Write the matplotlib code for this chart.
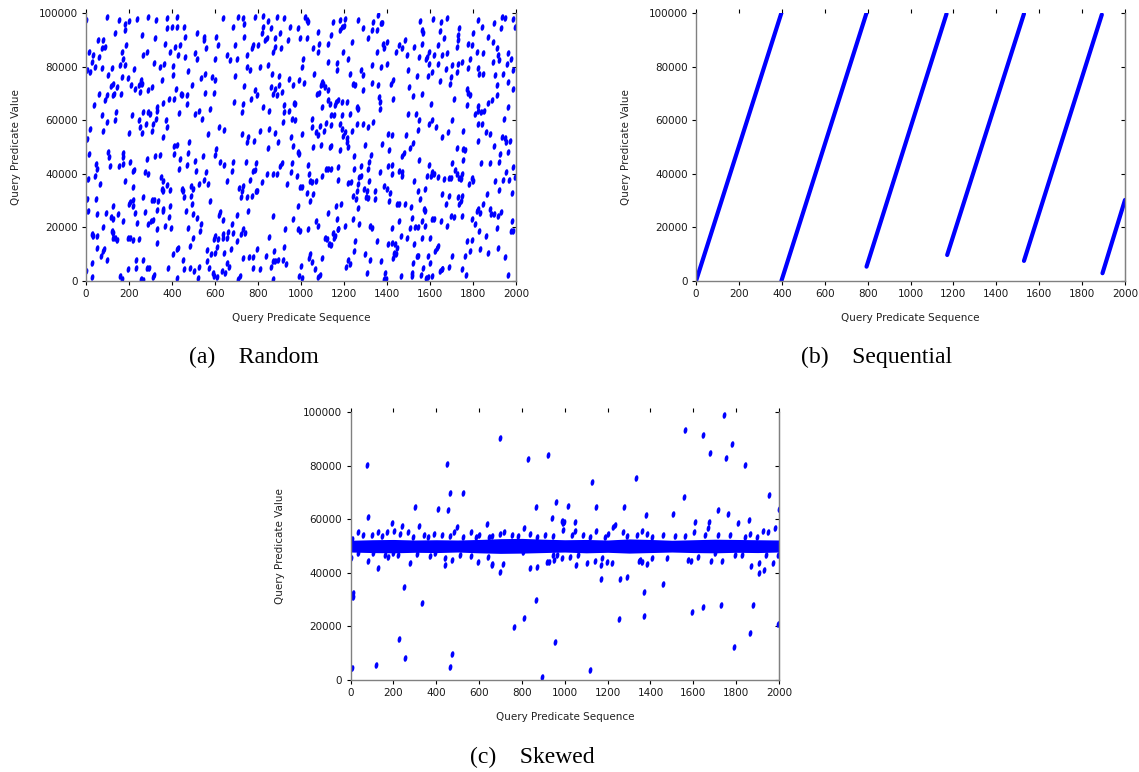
#query predicate workloads - random / sequential / skewed
import numpy as np
import matplotlib
matplotlib.use("Agg")
import matplotlib.pyplot as plt
from matplotlib.markers import MarkerStyle
from matplotlib.transforms import Affine2D

# ---- (a) random : x = query number, y in thousands ----
rand_x = [
    99,153,181,201,236,290,325,378,398,425,456,638,708,728,786,821,848,890,921,949,0,
    135,181,262,375,422,515,549,604,685,735,825,859,817,840,879,902,941,736,
    57,81,73,88,186,321,367,414,437,460,549,558,615,694,778,801,832,879,905,
    15,34,62,166,174,267,282,391,429,460,507,515,600,654,701,747,770,871,
    26,42,6,19,73,104,122,158,181,223,316,344,363,403,406,476,533,553,584,670,693,747,763,809,848,863,899,
    116,127,146,166,197,209,228,248,259,254,305,352,418,440,491,600,735,786,794,859,879,896,911,945,964,
    62,37,96,88,124,130,161,251,290,329,356,387,409,445,471,468,527,553,577,597,688,728,766,821,849,868,887,922,969,
    73,96,138,135,212,248,263,290,298,329,325,372,434,507,538,724,922,945,956,918,
    19,77,201,251,262,279,305,313,378,360,569,620,642,724,755,809,852,877,952,6,
    1019,1026,1031,1150,1181,1205,1267,1336,1356,1375,1553,1615,1651,1677,1821,1899,1933,1949,1987,984,
    1081,1139,1181,1189,1201,1290,1310,1329,1352,1372,1561,1569,1646,1663,1735,1732,1801,1843,1871,1930,1995,995,1026,
    1057,1084,1077,1127,1236,1197,1383,1398,1387,1440,1456,1471,1484,1525,1561,1595,1635,1654,1677,1728,1724,1775,1794,1817,1894,1910,1964,
    1011,1006,1127,1166,1166,1220,1352,1332,1372,1398,1491,1496,1549,1584,1595,1580,1620,1635,1673,1701,1728,1747,1775,1786,1848,1918,1894,1921,1956,1976,1821,1987,
    991,1015,1062,1096,1104,1112,1093,1124,1228,1243,1251,1279,1290,1332,1360,1418,1429,1502,1538,1592,1611,1646,1693,1697,1724,1770,1828,1848,1902,1910,1941,1964,1987,
    972,1073,1084,1124,1135,1161,1170,1189,1212,1263,1290,1363,1367,1429,1522,1564,1604,1713,1770,1778,1786,1821,1868,1887,1910,1964,
    1096,1139,1155,1158,1228,1259,1189,1053,1367,1499,1533,1549,1608,1701,1821,1809,1837,1852,1945,972,
    1003,1053,1077,1068,1088,1108,1115,1139,1181,1189,1205,1197,1212,1239,1259,1290,1313,1336,1406,1425,1487,1542,1595,1626,1685,1657,1755,1821,1840,1859,1879,1933,1949,1972,
    15,104,108,170,174,205,282,321,344,409,425,409,437,480,476,507,542,604,600,747,781,848,894,961,
    46,50,42,112,155,170,217,223,274,290,434,468,511,558,623,642,677,682,744,775,786,790,840,890,902,910,952,956,
    11,65,181,220,347,356,378,360,352,391,445,487,499,527,549,569,654,713,728,763,790,817,871,933,
    6,46,127,205,201,217,220,267,305,316,336,356,391,456,449,487,491,577,719,724,747,770,794,
    11,53,93,115,127,150,170,228,236,274,301,290,310,332,360,387,465,499,518,620,623,639,679,701,755,868,964,
    26,34,50,77,119,127,135,124,197,205,220,248,332,367,394,476,530,533,499,600,595,615,635,639,657,662,682,701,732,719,739,925,852,
    53,84,77,68,96,146,263,329,403,422,429,484,561,580,600,608,642,673,732,759,778,794,837,874,871,894,921,918,
    0,26,26,158,166,197,232,232,254,263,282,294,310,316,383,425,449,456,484,502,527,522,564,573,592,595,608,631,646,654,666,708,716,775,809,859,868,879,930,
    984,991,1057,1093,1135,1139,1181,1212,1217,1248,1298,1325,1378,1409,1471,1480,1507,1522,1549,1724,1755,1763,1821,1899,1925,1952,1961,
    1034,1037,1115,1127,1139,1174,1248,1279,1279,1310,1316,1367,1403,1425,1456,1471,1468,1595,1584,1608,1620,1635,1704,1724,1716,1744,1755,1837,1879,1921,1987,1952,
    980,995,1006,1042,1050,1068,1099,1174,1217,1232,1270,1267,1259,1294,1305,1316,1344,1387,1398,1414,1422,1524,1542,1577,1604,1666,1688,1697,1735,1747,1781,1794,1801,1902,1921,1941,1967,1980,1995,
    1026,1042,1057,984,1161,1186,1243,1254,1263,1301,1313,1344,1409,1445,1456,1484,1511,1553,1573,1577,1657,1688,1673,1728,1747,1735,1744,1817,1825,1848,1863,1879,1899,1930,1832,
    1068,1077,1124,1166,1170,1205,1243,1270,1321,1329,1422,1456,1507,1515,1530,1542,1561,1577,1608,1620,1651,1677,1697,1713,1747,1794,1809,1828,1883,1918,1980,1987,
    984,995,1031,1112,1119,1130,1150,1155,1158,1174,1251,1352,1403,1425,1437,1445,1465,1491,1527,1561,1600,1631,1639,1770,1797,1859,1910,1976,
    1042,1037,1053,1099,1139,1220,1208,1228,1248,1298,1321,1372,1434,1429,1440,1522,1538,1546,1569,1589,1600,1623,1654,1701,1763,1786,1832,1871,1914,1949,
    1000,991,1003,1065,1088,1081,1305,1390,1387,1394,1465,1515,1518,1558,1580,1589,1608,1646,1657,1688,1747,1766,1964,
]
rand_y = [
    98.6,97.4,95.8,97.0,97.8,98.6,97.4,98.0,94.9,98.4,94.9,98.0,98.6,98.3,98.6,98.9,97.0,98.4,98.0,94.9,97.4,
    92.4,93.6,91.8,94.3,94.9,92.4,91.1,91.1,94.9,95.8,94.9,94.3,92.4,90.5,90.5,92.4,89.9,91.1,
    89.9,89.9,86.8,87.4,88.0,90.5,88.6,87.4,88.0,91.1,89.9,86.8,88.0,88.0,88.0,88.0,89.9,87.4,86.8,
    85.5,84.3,83.6,85.5,83.0,84.3,85.5,85.5,84.5,83.6,84.9,83.0,83.0,84.3,83.0,84.3,86.8,85.5,
    81.8,79.9,78.6,78.0,79.3,76.8,79.3,80.5,80.5,79.0,81.5,79.9,80.8,80.3,76.8,78.3,75.8,77.4,76.1,82.4,76.5,79.9,78.6,79.9,80.5,77.4,76.5,
    72.6,73.6,72.4,76.1,75.8,73.0,71.8,73.0,73.6,74.9,72.4,74.9,71.5,69.9,73.0,74.9,72.8,71.1,69.3,72.4,71.8,73.0,70.5,75.3,73.0,
    69.9,65.5,69.3,67.4,69.3,69.9,69.9,70.5,71.1,64.9,66.5,68.0,68.0,69.3,69.3,66.1,63.6,70.3,64.3,70.3,66.8,66.1,68.0,64.9,63.3,69.9,69.3,65.5,66.5,
    61.8,59.3,63.0,59.9,61.8,59.9,63.0,63.0,62.4,63.6,60.5,59.9,62.8,62.4,60.5,63.0,63.0,63.6,60.5,59.3,
    56.8,56.1,55.3,57.4,55.3,58.6,56.1,58.6,57.4,53.6,54.9,57.4,56.5,54.9,53.6,56.1,56.8,55.3,53.6,53.0,
    98.6,97.4,96.5,96.8,97.4,97.8,97.4,96.8,99.3,96.1,97.0,97.8,96.8,98.3,97.4,96.1,98.6,98.0,97.8,94.5,
    93.0,91.8,93.6,94.9,95.3,94.5,90.5,93.6,93.6,96.1,93.6,92.4,93.3,90.5,94.5,91.8,92.4,94.9,91.1,94.5,94.9,90.5,90.5,
    86.8,88.3,85.5,88.6,89.3,85.5,88.3,89.3,86.8,85.5,88.0,87.0,89.9,87.4,88.3,85.5,88.0,84.3,84.9,89.9,87.4,88.3,88.0,85.5,89.3,86.8,84.9,
    83.0,79.9,81.8,81.5,78.6,83.0,85.5,80.5,79.9,81.1,84.3,78.6,83.6,83.6,81.1,83.0,84.3,81.1,79.0,80.5,81.1,81.8,79.3,83.0,84.9,84.3,81.8,82.4,80.8,83.0,79.3,78.6,
    74.9,74.0,77.4,74.3,73.6,72.4,73.0,71.1,77.4,73.6,73.0,78.6,76.8,74.0,73.0,73.6,74.9,72.4,76.5,76.5,78.0,74.5,73.6,76.1,78.0,71.8,77.4,77.4,76.8,73.0,77.4,74.3,71.8,
    66.1,69.9,70.3,67.4,66.1,66.8,67.4,66.8,66.8,64.3,71.1,68.6,66.8,68.0,69.0,69.9,66.1,68.0,65.5,70.3,69.5,65.3,66.5,67.4,69.3,64.9,
    64.9,61.8,61.8,65.5,62.4,64.9,61.8,60.5,64.0,62.4,62.4,59.9,59.9,59.9,63.3,62.4,63.0,63.6,60.5,59.9,
    54.9,57.4,54.3,55.5,58.0,56.1,59.0,58.3,58.6,56.8,55.5,54.0,53.3,56.1,58.6,58.6,57.4,59.3,54.9,54.3,54.3,56.5,58.6,57.4,55.5,53.6,56.1,58.6,58.6,55.5,54.9,53.6,53.3,52.4,
    47.4,48.0,46.4,47.7,46.2,44.3,45.5,46.8,47.2,50.5,50.9,47.4,45.5,51.8,47.7,44.9,46.8,49.3,47.2,51.8,52.4,49.6,51.8,50.5,
    43.7,41.8,39.3,43.0,43.0,43.7,41.2,41.4,40.5,39.9,41.8,43.4,40.9,40.5,44.3,43.4,40.9,44.3,44.3,40.9,41.4,43.9,39.9,39.9,43.0,43.9,40.5,43.9,
    38.0,36.2,37.2,34.9,38.9,37.4,35.9,33.7,34.3,33.9,34.3,35.5,34.3,36.2,37.7,36.2,37.2,34.7,35.5,37.7,33.7,36.8,39.9,36.2,
    30.5,30.5,28.0,29.3,28.7,28.0,30.2,31.2,30.2,30.2,29.9,26.8,28.0,31.2,33.7,31.8,28.7,29.7,31.2,33.7,31.4,31.8,33.7,
    26.2,24.9,25.5,23.9,23.0,24.9,22.4,25.5,21.8,25.9,22.4,21.4,22.7,26.4,26.2,23.9,26.2,24.9,23.4,24.7,25.9,22.7,21.2,24.7,26.2,24.3,23.0,
    17.4,16.8,16.8,20.2,18.7,18.0,16.2,15.9,16.2,15.9,15.2,15.5,19.3,20.5,19.9,19.9,18.7,21.2,16.2,16.8,15.5,15.5,16.2,17.7,16.2,18.4,18.0,14.9,19.3,17.4,18.0,19.3,16.4,
    12.4,11.8,11.2,9.3,8.0,15.2,8.0,14.3,10.2,11.8,12.2,13.0,11.4,10.2,10.5,12.6,10.5,11.8,8.7,8.9,8.9,11.8,9.3,11.2,7.6,8.0,12.6,8.0,
    3.7,6.8,1.4,1.8,0.9,4.3,4.9,8.0,0.9,0.2,4.7,4.9,1.4,2.4,4.9,1.2,8.0,4.3,4.9,3.9,5.2,1.2,7.4,4.9,3.0,1.8,1.4,3.9,3.0,6.8,5.2,0.9,1.8,4.7,4.3,5.2,0.9,7.6,6.4,
    48.0,47.4,49.9,50.9,49.9,50.5,48.7,51.8,49.9,46.8,50.9,47.2,51.2,48.7,46.8,47.7,49.7,51.4,45.2,49.7,49.3,48.7,52.4,50.2,47.4,51.8,48.0,
    43.4,39.9,41.8,41.8,41.8,42.4,41.8,43.0,39.3,41.8,44.3,40.5,43.0,43.4,41.2,40.5,39.3,43.4,39.3,40.5,39.9,38.7,43.9,39.9,41.4,38.0,45.2,43.9,43.9,44.3,42.4,40.5,
    39.3,34.9,34.9,37.4,36.8,37.4,39.3,37.7,36.4,36.8,38.9,36.2,33.7,34.3,33.7,37.4,33.7,35.5,34.3,33.0,39.9,37.4,33.7,34.3,39.3,38.0,38.4,38.4,38.4,39.9,36.2,38.4,37.4,37.4,33.9,37.7,37.7,32.7,38.7,
    33.0,29.9,32.4,28.0,28.0,28.9,31.8,30.5,27.4,31.2,30.9,30.5,29.9,28.9,28.7,28.7,27.7,30.5,26.8,26.2,32.4,31.8,28.7,31.2,31.8,28.7,29.9,26.2,26.8,28.7,32.4,26.8,24.9,25.9,25.5,
    22.4,20.5,25.5,23.0,19.3,20.5,23.0,21.2,20.5,19.7,19.7,22.4,19.7,23.4,20.2,20.2,22.4,20.5,23.0,23.0,22.4,20.5,24.3,23.7,24.3,23.0,21.2,18.7,24.9,24.3,22.4,18.7,
    19.3,18.7,19.3,16.2,15.5,13.7,18.0,16.2,16.8,19.3,14.9,14.9,13.7,14.3,13.9,12.4,16.8,15.9,13.9,15.9,16.2,12.4,13.0,14.9,15.2,16.8,19.9,18.7,
    9.9,8.7,7.2,8.4,13.4,8.0,5.2,6.2,11.2,9.9,8.0,7.4,10.5,8.4,9.9,6.8,9.3,9.3,4.9,9.3,6.8,11.2,4.3,9.3,9.3,11.2,11.8,10.5,12.4,8.9,
    5.5,1.8,1.2,4.3,2.4,1.4,3.0,3.0,0.9,0.9,1.8,3.0,1.8,2.2,1.2,1.4,1.8,3.7,4.3,5.2,4.3,2.4,2.4,
]

# ---- (b) sequential : runs of increasing predicate values ----
seq_start_x = [0, 398, 795, 1171, 1529, 1895]
seq_start_y = [0, 0, 5350, 9700, 7500, 2900]
seq_end_x = [398, 795, 1168, 1529, 1892, 2000]
seq_end_y = [100000, 100000, 99700, 99700, 99400, 30250]

# ---- (c) skewed : dense band near 50000 (thousands) ----
band_x = [0,100,200,300,400,500,600,700,800,900,1000,1100,1200,1300,1400,1500,1600,1700,1800,1900,2000]
band_hi = [52.2,52.4,52.5,52.3,52.4,52.3,52.5,52.8,52.9,52.6,52.4,52.5,52.3,52.7,52.5,52.2,52.4,52.6,52.5,52.4,52.3]
band_lo = [47.8,47.6,47.5,47.7,47.6,47.8,47.5,47.3,47.4,47.6,47.8,47.5,47.7,47.4,47.6,47.8,47.6,47.5,47.7,47.6,47.8]

spike_x = [
    36,60,127,169,192,205,242,270,320,345,391,425,485,496,527,562,600,636,646,659,5,99,145,231,293,363,464,584,
    2,36,80,130,161,177,200,223,278,371,441,441,472,511,562,597,643,659,107,309,394,
    698,716,810,838,869,908,947,990,990,996,1032,1048,1048,1084,1118,1146,1188,1203,1224,1235,1273,1292,1336,752,783,985,
    659,698,710,803,838,869,916,928,947,950,962,1052,1063,1105,1141,1168,1172,1199,1219,1348,985,1024,
    1362,1382,1406,1460,1515,1605,1608,1655,1667,1673,1717,1771,1810,1841,1860,1865,1896,1927,1950,1981,1561,
    1351,1362,1382,1406,1476,1577,1589,1624,1683,1736,1795,1829,1869,1907,1907,1932,1938,1974,1994,1701,
]
spike_y = [
    55.4,54.1,55.4,55.4,58.7,55.7,57.5,55.4,57.5,54.1,54.7,54.1,55.4,57.2,53.5,55.4,54.1,58.2,53.3,53.7,52.5,54.1,53.7,54.5,53.5,53.3,53.7,53.3,
    45.4,47.3,44.5,41.7,46.7,46.0,47.3,46.7,43.8,46.3,45.4,42.9,44.8,46.7,46.3,44.2,46.0,42.9,47.3,47.0,47.3,
    54.7,55.4,56.6,54.7,53.5,54.1,53.7,56.0,58.5,59.1,54.1,55.7,59.1,54.1,53.5,55.7,53.3,54.5,57.0,57.9,55.4,53.7,54.1,54.1,53.7,59.5,
    43.5,40.4,43.5,47.9,41.7,42.3,44.2,44.2,46.7,44.8,46.7,42.9,46.7,43.8,44.5,42.9,45.4,44.2,43.8,44.5,45.4,46.0,
    55.7,54.7,53.5,54.1,53.7,55.4,59.1,54.1,56.6,59.1,54.1,54.1,58.5,53.5,59.7,54.7,53.3,55.7,55.4,56.6,53.7,
    44.8,44.2,43.5,45.4,45.4,44.8,44.5,46.0,44.5,44.5,46.7,46.7,42.5,39.8,43.8,41.1,46.7,43.8,46.7,47.3,
]

out_x = [9,10,14,75,82,118,227,249,253,300,336,409,451,456,464,464,476,526,700,762,
         809,829,866,868,892,923,939,954,959,1017,1120,1128,1146,1167,1254,1258,1276,1290,1332,1371,
         1369,1378,1459,1507,1561,1556,1592,1646,1646,1677,1728,1717,1745,1754,1761,1782,1789,1841,1863,1880,
         1954,1996,2000]
out_y = [4.4,31.0,32.5,80.3,61.0,5.6,15.2,34.9,8.1,64.5,28.6,63.7,80.7,63.5,70.0,5.0,9.7,70.0,90.3,19.9,
         23.0,82.4,64.5,29.9,1.0,84.0,60.4,14.3,66.6,65.0,3.7,74.1,64.5,37.6,22.7,37.9,64.5,38.3,75.3,33.0,
         23.9,61.6,35.9,62.0,93.4,68.5,25.5,91.5,27.4,84.9,28.0,63.5,99.0,82.8,62.0,88.1,12.4,80.3,17.4,28.0,
         69.1,20.9,63.7]

captions = ["(a)    Random", "(b)    Sequential", "(c)    Skewed"]

BLUE = "#0000ff"
GREY = "#808080"
dot = MarkerStyle("o", transform=Affine2D().scale(0.55, 1.0).rotate_deg(-10))


def style_axes(ax):
    ax.set_xlim(0, 2000)
    ax.set_ylim(0, 100000)
    ax.set_xticks(range(0, 2001, 200))
    ax.set_yticks(range(0, 100001, 20000))
    ax.spines["top"].set_visible(False)
    for s in ["left", "bottom", "right"]:
        ax.spines[s].set_color(GREY)
        ax.spines[s].set_linewidth(1.0)
    ax.tick_params(axis="x", top=True, direction="out", length=3, width=0.8,
                   labelsize=7.5, labelcolor="#1a1a1a", pad=3)
    ax.tick_params(axis="y", left=True, right=False, direction="out", length=3,
                   width=0.8, labelsize=7.5, labelcolor="#1a1a1a", pad=3)
    # inward mirror ticks on the right border
    sec = ax.secondary_yaxis("right")
    sec.set_yticks(range(0, 100001, 20000))
    sec.tick_params(direction="in", length=3, width=0.8, labelright=False)
    sec.spines["right"].set_color(GREY)
    ax.set_xlabel("Query Predicate Sequence", fontsize=7.5, color="#222222")
    ax.set_ylabel("Query Predicate Value", fontsize=7.5, color="#222222")
    ax.xaxis.set_label_coords(0.5, -0.12)
    ax.yaxis.set_label_coords(-0.152, 0.5)


fig = plt.figure(figsize=(11.39, 7.72), dpi=100)
ax_a = fig.add_axes([86 / 1139, 1 - 281 / 772, 430 / 1139, 268 / 772])
ax_b = fig.add_axes([696 / 1139, 1 - 281 / 772, 429 / 1139, 268 / 772])
ax_c = fig.add_axes([350.5 / 1139, 1 - 680 / 772, 428.5 / 1139, 267.7 / 772])

# (a)
ax_a.plot(rand_x, np.array(rand_y) * 1000, linestyle="none", marker=dot,
          markersize=4.8, color=BLUE, markeredgewidth=0)

# (b)
for x0, y0, x1, y1 in zip(seq_start_x, seq_start_y, seq_end_x, seq_end_y):
    ax_b.plot([x0, x1], [y0, y1], color=BLUE, lw=3.0, solid_capstyle="round")

# (c)
ax_c.fill_between(band_x, np.array(band_lo) * 1000, np.array(band_hi) * 1000,
                  color=BLUE, linewidth=0)
ax_c.plot(spike_x, np.array(spike_y) * 1000, linestyle="none", marker=dot,
          markersize=4.8, color=BLUE, markeredgewidth=0)
ax_c.plot(out_x, np.array(out_y) * 1000, linestyle="none", marker=dot,
          markersize=4.8, color=BLUE, markeredgewidth=0)

for ax in [ax_a, ax_b, ax_c]:
    style_axes(ax)

serif = ["Liberation Serif", "DejaVu Serif"]
fig.text(254 / 1139, 1 - 357 / 772, captions[0], ha="center", va="center",
         family=serif, fontsize=17)
fig.text(877 / 1139, 1 - 357 / 772, captions[1], ha="center", va="center",
         family=serif, fontsize=17)
fig.text(532 / 1139, 1 - 757 / 772, captions[2], ha="center", va="center",
         family=serif, fontsize=17)

fig.savefig("out.png", dpi=100)
